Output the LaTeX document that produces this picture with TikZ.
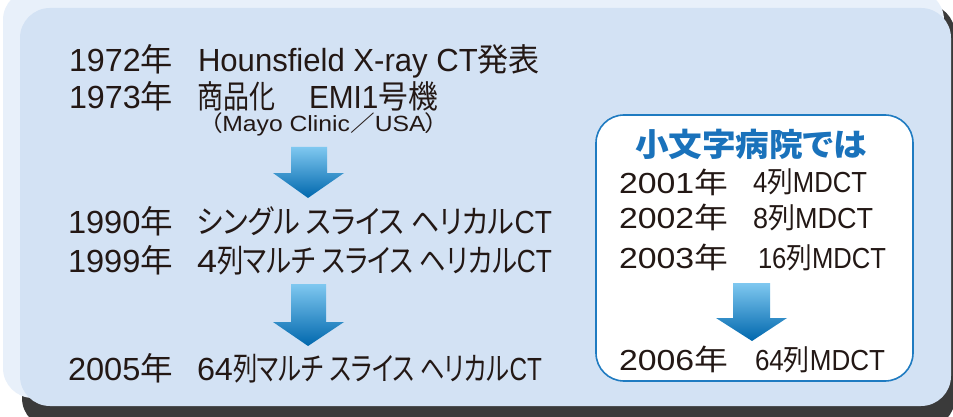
\documentclass[tikz,border=0pt]{standalone}
\usepackage{fontspec}
\usepackage{graphicx}
\setmainfont{Liberation Sans}
\newfontfamily\cjk[RawFeature=+palt]{Noto Sans CJK JP}
\definecolor{ink}{HTML}{231815}
\definecolor{panel}{HTML}{D3E2F4}
\definecolor{glow}{HTML}{E8F0FA}
\definecolor{frame}{HTML}{3A3A3A}
\definecolor{boxline}{HTML}{1F7BC1}
\definecolor{titleblue}{HTML}{1A72BB}
\definecolor{arrtop}{HTML}{7FC8F0}
\definecolor{arrbot}{HTML}{0067AD}
\newcommand{\fitw}[2]{\resizebox{#1pt}{\height}{#2}}
\begin{document}
\begin{tikzpicture}[x=1pt,y=-1pt,
  txt/.style={inner sep=0pt, outer sep=0pt, anchor=base west, text=ink, font=\fontsize{32}{36}\selectfont},
  txr/.style={txt, font=\fontsize{29}{33}\selectfont},
  small/.style={txt, font=\fontsize{22}{26}\selectfont},
  ttl/.style={inner sep=0pt, outer sep=0pt, anchor=base, text=titleblue, font=\fontsize{32}{36}\selectfont\cjk\bfseries},
  downarrow/.style={top color=arrtop, bottom color=arrbot, draw=none},
]
\useasboundingbox (0,0) rectangle (953,417);
% background panel with bevel
\fill[white] (0,0) rectangle (953,417);
\fill[frame, rounded corners=30pt] (22,4) rectangle (955,428);
\fill[glow, rounded corners=30pt] (3,-10) rectangle (944,398);
\fill[panel, rounded corners=30pt] (20,8) rectangle (951,406);
% right box
\draw[boxline, fill=white, line width=1.6pt, rounded corners=28pt] (596,115) rectangle (913,381);
% arrows
\shade[downarrow] (291,147) -- (327,147) -- (327,173) -- (344,173) -- (308,198) -- (273,173) -- (291,173) -- cycle;
\shade[downarrow] (291,284) -- (326,284) -- (326,322) -- (344,322) -- (308,346) -- (273,322) -- (291,322) -- cycle;
\shade[downarrow] (733,283) -- (770,283) -- (770,318) -- (787,318) -- (752,341) -- (716,318) -- (733,318) -- cycle;
% left column
\node[txt] (y72) at (69,72) {\fitw{104}{1972{\cjk 年}}};
\node[txt] (t72) at (198,72) {\fitw{342}{Hounsfield X-ray CT{\cjk 発表}}};
\node[txt] (y73) at (69,109) {\fitw{104}{1973{\cjk 年}}};
\node[txt] (t73a) at (197,109) {\fitw{78}{\cjk 商品化}};
\node[txt] (t73b) at (309,109) {\fitw{129}{EMI1{\cjk 号機}}};
\node[small] (mayo) at (210,132) {\fitw{228}{{\cjk （}Mayo Clinic{\cjk ／}USA{\cjk ）}}};
\node[txt] (y90) at (68,233) {\fitw{105}{1990{\cjk 年}}};
\node[txt] (t90) at (197,233) {\fitw{355}{{\cjk シングル スライス ヘリカル}CT}};
\node[txt] (y99) at (68,272) {\fitw{105}{1999{\cjk 年}}};
\node[txt] (t99a) at (197,272) {\fitw{20}{4}};
\node[txt] (t99b) at (217,272) {\fitw{335}{{\cjk 列マルチ スライス ヘリカル}CT}};
\node[txt] (y05) at (68,380) {\fitw{105}{2005{\cjk 年}}};
\node[txt] (t05a) at (197,380) {\fitw{36}{64}};
\node[txt] (t05b) at (233,380) {\fitw{309}{{\cjk 列マルチ スライス ヘリカル}CT}};
% right column
\node[ttl] (ttl) at (751,157) {\fitw{232}{小文字病院では}};
\node[txr] (y01) at (619,193) {\fitw{109}{2001{\cjk 年}}};
\node[txr] (m01) at (753,193) {\fitw{114}{4{\cjk 列}MDCT}};
\node[txr] (y02) at (619,228) {\fitw{109}{2002{\cjk 年}}};
\node[txr] (m02) at (753,228) {\fitw{120}{8{\cjk 列}MDCT}};
\node[txr] (y03) at (619,268) {\fitw{109}{2003{\cjk 年}}};
\node[txr] (m03) at (758,268) {\fitw{128}{16{\cjk 列}MDCT}};
\node[txr] (y06) at (619,370) {\fitw{109}{2006{\cjk 年}}};
\node[txr] (m06) at (755,370) {\fitw{130}{64{\cjk 列}MDCT}};
\end{tikzpicture}
\end{document}
